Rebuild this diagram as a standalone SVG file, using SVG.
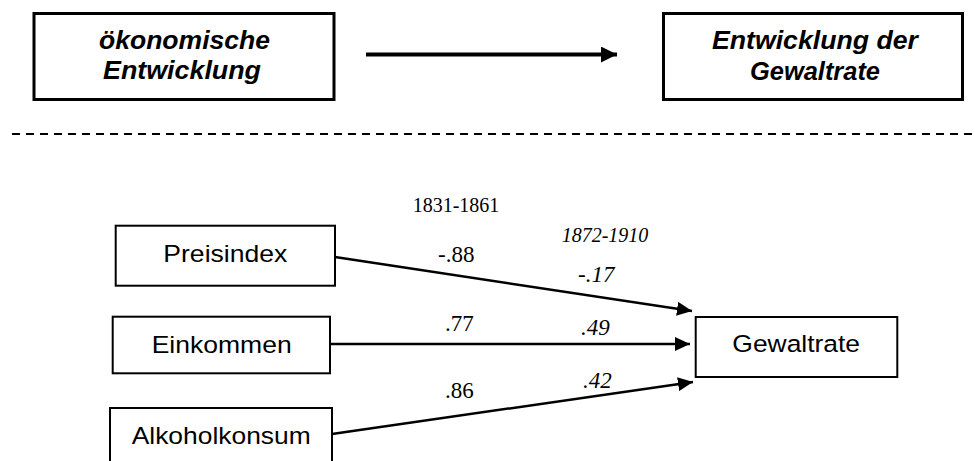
<svg xmlns="http://www.w3.org/2000/svg" width="975" height="461" viewBox="0 0 975 461">
<style>
.bx{fill:#fff;stroke:#000;stroke-width:2}
.bxt{fill:#fff;stroke:#000;stroke-width:3}
.hd{font-family:"Liberation Sans",Arial,sans-serif;font-weight:bold;font-style:italic;font-size:25px;text-anchor:middle;fill:#000}
.lb{font-family:"Liberation Sans",Arial,sans-serif;font-size:24.5px;text-anchor:middle;fill:#000}
.yr{font-family:"Liberation Serif","Times New Roman",serif;font-size:20px;fill:#000}
.val{font-family:"Liberation Serif","Times New Roman",serif;font-size:23px;fill:#000}
.it{font-style:italic}
.ln{stroke:#000;stroke-width:2.5;fill:none}
</style>
<defs>
<marker id="ah" markerUnits="userSpaceOnUse" markerWidth="15" markerHeight="14" refX="15" refY="7" orient="auto">
<path d="M0,0 L15,7 L0,14 z" fill="#000"/>
</marker>
<marker id="ahT" markerUnits="userSpaceOnUse" markerWidth="16" markerHeight="16" refX="16" refY="8" orient="auto">
<path d="M0,0 L16,8 L0,16 z" fill="#000"/>
</marker>
</defs>

<g id="oekonomische">
<rect class="bxt" x="34" y="13.5" width="300" height="86"/>
<text class="hd" x="184.5" y="49" textLength="171" lengthAdjust="spacingAndGlyphs">ökonomische</text>
<text class="hd" x="182" y="79" textLength="158" lengthAdjust="spacingAndGlyphs">Entwicklung</text>
</g>
<g id="entwicklung-gewaltrate">
<rect class="bxt" x="663.5" y="13.5" width="299" height="86"/>
<text class="hd" x="815" y="49" textLength="206" lengthAdjust="spacingAndGlyphs">Entwicklung der</text>
<text class="hd" x="815" y="80" textLength="130" lengthAdjust="spacingAndGlyphs">Gewaltrate</text>
</g>

<g id="preisindex">
<rect class="bx" x="115.7" y="225.7" width="219.3" height="60"/>
<text class="lb" x="225.3" y="261.7" textLength="124" lengthAdjust="spacingAndGlyphs">Preisindex</text>
</g>
<g id="einkommen">
<rect class="bx" x="112.7" y="316.7" width="217.3" height="56.6"/>
<text class="lb" x="221.7" y="352.7" textLength="140" lengthAdjust="spacingAndGlyphs">Einkommen</text>
</g>
<g id="alkoholkonsum">
<rect class="bx" x="110" y="408" width="222" height="70"/>
<text class="lb" x="221.2" y="444" textLength="179" lengthAdjust="spacingAndGlyphs">Alkoholkonsum</text>
</g>
<g id="gewaltrate">
<rect class="bx" x="695.7" y="317" width="201.6" height="60"/>
<text class="lb" x="796.2" y="351.7" textLength="127.7" lengthAdjust="spacingAndGlyphs">Gewaltrate</text>
</g>

<g id="connectors">
<line x1="366" y1="54.5" x2="617" y2="54.5" stroke="#000" stroke-width="4" marker-end="url(#ahT)"/>
<line x1="12" y1="134" x2="975" y2="134" stroke="#000" stroke-width="2" stroke-dasharray="8 6"/>
<line class="ln" x1="335" y1="257" x2="692" y2="311" marker-end="url(#ah)"/>
<line class="ln" x1="330" y1="344" x2="690" y2="344" marker-end="url(#ah)"/>
<line class="ln" x1="332" y1="434" x2="693" y2="382" marker-end="url(#ah)"/>
</g>

<g id="labels">
<text class="yr" x="412.7" y="211.7">1831-1861</text>
<text class="yr it" x="561.7" y="241.7">1872-1910</text>
<text class="val" x="438" y="262">-.88</text>
<text class="val it" x="578" y="281.7">-.17</text>
<text class="val" x="445" y="330.7">.77</text>
<text class="val it" x="581" y="335">.49</text>
<text class="val" x="445" y="398.3">.86</text>
<text class="val it" x="583" y="388">.42</text>
</g>
</svg>
